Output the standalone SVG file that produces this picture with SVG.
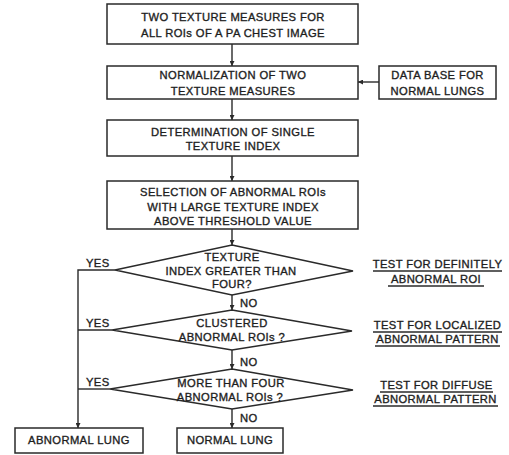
<svg xmlns="http://www.w3.org/2000/svg" width="509" height="455" viewBox="0 0 509 455">
<style>
.box{fill:#fff;stroke:#2a2a2a;stroke-width:1.5}
.t{font-family:"Liberation Sans",Arial,sans-serif;font-size:11.2px;fill:#1e1e1e;stroke:#1e1e1e;stroke-width:0.35;text-anchor:middle;letter-spacing:0.4px}
.l{font-family:"Liberation Sans",Arial,sans-serif;font-size:11.2px;fill:#1e1e1e;stroke:#1e1e1e;stroke-width:0.35;letter-spacing:0.4px}
.c{fill:none;stroke:#2a2a2a;stroke-width:1.4}
.u{stroke:#2a2a2a;stroke-width:1.3}
</style>
<defs>
<marker id="ah" viewBox="0 0 10 10" refX="10" refY="5" markerWidth="5" markerHeight="5" orient="auto" markerUnits="userSpaceOnUse">
<path d="M0,0 L10,5 L0,10 z" fill="#2a2a2a"/>
</marker>
</defs>
<rect width="509" height="455" fill="#fff"/>
<g id="connectors">
<line class="c" x1="232" y1="44" x2="232" y2="66" marker-end="url(#ah)"/>
<line class="c" x1="379" y1="82" x2="358" y2="82" marker-end="url(#ah)"/>
<line class="c" x1="232" y1="99" x2="232" y2="120" marker-end="url(#ah)"/>
<line class="c" x1="232" y1="156" x2="232" y2="181" marker-end="url(#ah)"/>
<line class="c" x1="232" y1="229" x2="232" y2="245" marker-end="url(#ah)"/>
<line class="c" x1="232" y1="295" x2="232" y2="310" marker-end="url(#ah)"/>
<line class="c" x1="232" y1="350" x2="232" y2="369" marker-end="url(#ah)"/>
<line class="c" x1="232" y1="409" x2="232" y2="428" marker-end="url(#ah)"/>
<polyline class="c" points="115,270 78,270 78,428" marker-end="url(#ah)"/>
<line class="c" x1="112" y1="330" x2="78" y2="330"/>
<line class="c" x1="110" y1="389" x2="78" y2="389"/>
<text class="l" x="86" y="267">YES</text>
<text class="l" x="86" y="327">YES</text>
<text class="l" x="86" y="386">YES</text>
<text class="l" x="240" y="307">NO</text>
<text class="l" x="240" y="366">NO</text>
<text class="l" x="240" y="422">NO</text>
</g>
<g id="n1">
<rect class="box" x="107" y="4" width="251" height="40"/>
<text class="t" x="233" y="21">TWO TEXTURE MEASURES FOR</text>
<text class="t" x="233" y="37">ALL ROIs OF A PA CHEST IMAGE</text>
</g>
<g id="n2">
<rect class="box" x="107" y="66" width="251" height="33"/>
<text class="t" x="233" y="79">NORMALIZATION OF TWO</text>
<text class="t" x="233" y="95">TEXTURE MEASURES</text>
</g>
<g id="db">
<rect class="box" x="379" y="66" width="117" height="33"/>
<text class="t" x="437.5" y="79">DATA BASE FOR</text>
<text class="t" x="437.5" y="95">NORMAL LUNGS</text>
</g>
<g id="n3">
<rect class="box" x="107" y="120" width="251" height="36"/>
<text class="t" x="233" y="136">DETERMINATION OF SINGLE</text>
<text class="t" x="233" y="150">TEXTURE INDEX</text>
</g>
<g id="n4">
<rect class="box" x="107" y="181" width="251" height="48"/>
<text class="t" x="233" y="196">SELECTION OF ABNORMAL ROIs</text>
<text class="t" x="233" y="211">WITH LARGE TEXTURE INDEX</text>
<text class="t" x="233" y="225">ABOVE THRESHOLD VALUE</text>
</g>
<g id="d1">
<polygon class="box" points="232,245 353,271 232,295 115,270"/>
<text class="t" x="232" y="261">TEXTURE</text>
<text class="t" x="231" y="275">INDEX GREATER THAN</text>
<text class="t" x="232" y="288">FOUR?</text>
</g>
<g id="d2">
<polygon class="box" points="232,310 352,331 232,350 112,330"/>
<text class="t" x="232" y="327">CLUSTERED</text>
<text class="t" x="232" y="341">ABNORMAL ROIs ?</text>
</g>
<g id="d3">
<polygon class="box" points="232,369 353,390 232,409 110,389"/>
<text class="t" x="231" y="387">MORE THAN FOUR</text>
<text class="t" x="230" y="401">ABNORMAL ROIs ?</text>
</g>
<g id="abn">
<rect class="box" x="15" y="428" width="128" height="25"/>
<text class="t" x="79" y="444">ABNORMAL LUNG</text>
</g>
<g id="nrm">
<rect class="box" x="177" y="428" width="106" height="25"/>
<text class="t" x="230" y="444">NORMAL LUNG</text>
</g>
<g id="notes">
<text class="t" x="437.5" y="268">TEST FOR DEFINITELY</text>
<line class="u" x1="373" y1="271" x2="502" y2="271"/>
<text class="t" x="436" y="283">ABNORMAL ROI</text>
<line class="u" x1="388" y1="286" x2="484" y2="286"/>
<text class="t" x="437.5" y="329">TEST FOR LOCALIZED</text>
<line class="u" x1="373" y1="332" x2="502" y2="332"/>
<text class="t" x="437.5" y="343">ABNORMAL PATTERN</text>
<line class="u" x1="375" y1="346" x2="500" y2="346"/>
<text class="t" x="436.5" y="389">TEST FOR DIFFUSE</text>
<line class="u" x1="380" y1="392" x2="493" y2="392"/>
<text class="t" x="435.5" y="403">ABNORMAL PATTERN</text>
<line class="u" x1="373" y1="406" x2="498" y2="406"/>
</g>
</svg>
